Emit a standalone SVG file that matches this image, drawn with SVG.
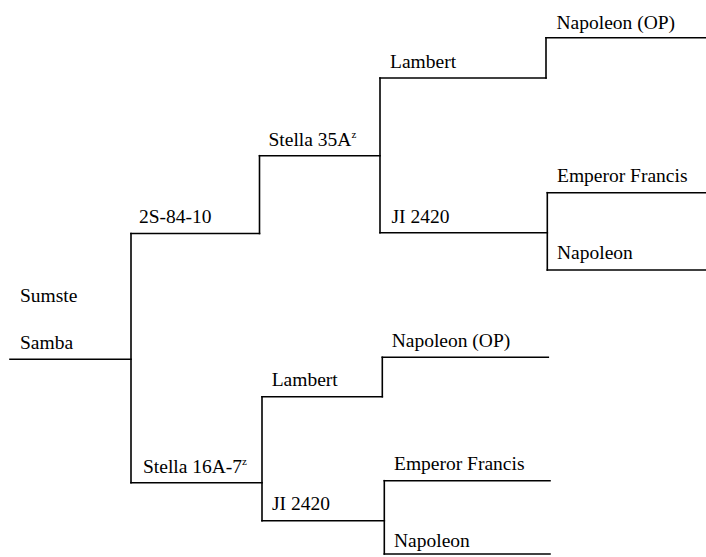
<svg xmlns="http://www.w3.org/2000/svg" width="706" height="557" viewBox="0 0 706 557">
<style>
text{font-family:"Liberation Serif","Times New Roman",serif;font-size:19.5px;fill:#000}
.sup{font-size:11px}
line,path{stroke:#000;stroke-width:1.6;fill:none;stroke-linecap:square}
</style>
<rect width="706" height="557" fill="#fff"/>
<g id="connectors">
<line x1="131" y1="233.5" x2="131" y2="482.7"/>
<line x1="259.5" y1="155.7" x2="259.5" y2="233.5"/>
<line x1="380" y1="78" x2="380" y2="232.7"/>
<line x1="546" y1="37.7" x2="546" y2="78"/>
<line x1="547.3" y1="192.7" x2="547.3" y2="270"/>
<line x1="262" y1="396.7" x2="262" y2="520.7"/>
<line x1="382.3" y1="357.3" x2="382.3" y2="396.7"/>
<line x1="384.3" y1="480.7" x2="384.3" y2="554"/>
</g>
<g id="node-root">
<text x="20" y="301.5">Sumste</text>
<text x="20" y="349">Samba</text>
<line x1="10" y1="359.3" x2="131" y2="359.3"/>
</g>
<g id="node-2s-84-10">
<text x="139" y="223">2S-84-10</text>
<line x1="131" y1="233.5" x2="259.5" y2="233.5"/>
</g>
<g id="node-stella35a">
<text x="268.5" y="146">Stella 35A<tspan class="sup" dy="-8">z</tspan></text>
<line x1="259.5" y1="155.7" x2="380" y2="155.7"/>
</g>
<g id="node-lambert-1">
<text x="390" y="68.3">Lambert</text>
<line x1="380" y1="78" x2="546" y2="78"/>
</g>
<g id="node-napoleon-op-1">
<text x="556.5" y="29">Napoleon (OP)</text>
<line x1="546" y1="37.7" x2="706" y2="37.7"/>
</g>
<g id="node-ji2420-1">
<text x="391.5" y="222.5">JI 2420</text>
<line x1="380" y1="232.7" x2="547.3" y2="232.7"/>
</g>
<g id="node-emperor-francis-1">
<text x="557" y="181.5">Emperor Francis</text>
<line x1="547.3" y1="192.7" x2="706" y2="192.7"/>
</g>
<g id="node-napoleon-1">
<text x="557" y="259">Napoleon</text>
<line x1="547.3" y1="270" x2="706" y2="270"/>
</g>
<g id="node-stella16a7">
<text x="143" y="472.5">Stella 16A-7<tspan class="sup" dy="-8">z</tspan></text>
<line x1="131" y1="482.7" x2="262" y2="482.7"/>
</g>
<g id="node-lambert-2">
<text x="271.7" y="386">Lambert</text>
<line x1="262" y1="396.7" x2="382.3" y2="396.7"/>
</g>
<g id="node-napoleon-op-2">
<text x="391.7" y="347.3">Napoleon (OP)</text>
<line x1="382.3" y1="357.3" x2="548.3" y2="357.3"/>
</g>
<g id="node-ji2420-2">
<text x="272" y="510">JI 2420</text>
<line x1="262" y1="520.7" x2="384.3" y2="520.7"/>
</g>
<g id="node-emperor-francis-2">
<text x="394" y="470">Emperor Francis</text>
<line x1="384.3" y1="480.7" x2="550" y2="480.7"/>
</g>
<g id="node-napoleon-2">
<text x="394" y="547">Napoleon</text>
<line x1="384.3" y1="554" x2="550" y2="554"/>
</g>
</svg>
